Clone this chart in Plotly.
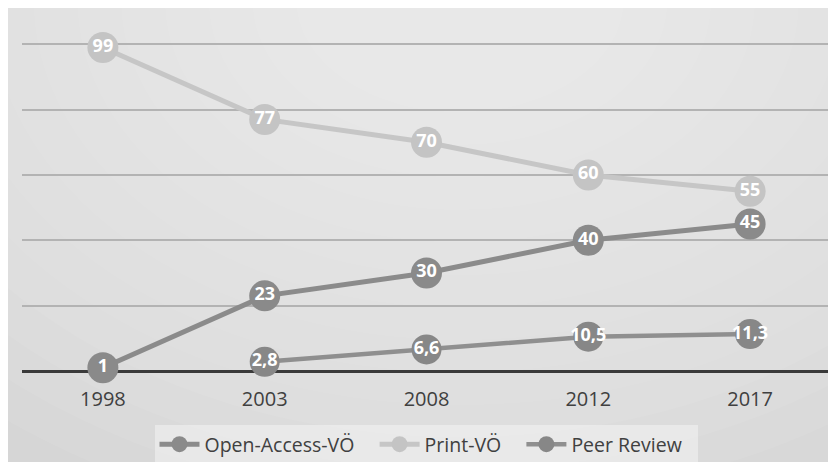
import plotly.graph_objects as go

years = ["1998", "2003", "2008", "2012", "2017"]
open_access = [1, 23, 30, 40, 45]
print_vo = [99, 77, 70, 60, 55]
peer_years = ["2003", "2008", "2012", "2017"]
peer_review = [2.8, 6.6, 10.5, 11.3]

def lab(v):
    return (f"{v:g}").replace(".", ",")

# page body has an 8px margin, so the figure is sized to the visible area
W, H = 828, 454
ML, MR, MT, MB = 14, 5, 33, 91
PW, PH = W - ML - MR, H - MT - MB
OFF = 8  # body margin offset (screen px -> figure px)

def px2x(p):
    return (p - OFF - ML) / PW

def px2y(p):
    return (H - MB - (p - OFF)) / PH

fig = go.Figure()

label_font = dict(family="Open Sans", size=18, color="white", weight="bold")

fig.add_trace(go.Scatter(
    x=years, y=open_access, name="Open-Access-VÖ\u00a0\u00a0\u00a0", mode="lines+markers+text",
    line=dict(color="#8b8b8b", width=5),
    marker=dict(size=31, color="#8a8a8a"),
    text=[lab(v) for v in open_access], textposition="middle center",
    textfont=label_font, cliponaxis=False))

fig.add_trace(go.Scatter(
    x=years, y=print_vo, name="Print-VÖ\u00a0\u00a0\u00a0", mode="lines+markers+text",
    line=dict(color="#c6c6c6", width=5),
    marker=dict(size=31, color="#c4c4c4"),
    text=[lab(v) for v in print_vo], textposition="middle center",
    textfont=label_font, cliponaxis=False))

fig.add_trace(go.Scatter(
    x=peer_years, y=peer_review, name="Peer Review\u00a0\u00a0", mode="lines+markers+text",
    line=dict(color="#8f8f8f", width=4.5),
    marker=dict(size=30, color="#878787"),
    text=[lab(v) for v in peer_review], textposition="middle center",
    textfont=label_font, cliponaxis=False))

shapes = []
# soft radial light from the top centre
cx, cy = 460, 0
for k in range(16):
    f = 1 - k / 16
    rx, ry = 120 + 700 * f, 80 + 520 * f
    shapes.append(dict(type="circle", xref="paper", yref="paper", layer="below",
                       x0=px2x(cx - rx), x1=px2x(cx + rx),
                       y0=px2y(cy + ry), y1=px2y(cy - ry),
                       fillcolor="rgba(255,255,255,0.06)", line=dict(width=0)))

fig.update_layout(
    width=W, height=H,
    margin=dict(l=ML, r=MR, t=MT, b=MB, autoexpand=False),
    paper_bgcolor="#d2d2d2", plot_bgcolor="rgba(0,0,0,0)",
    font=dict(family="Open Sans", color="#404040"),
    shapes=shapes,
    showlegend=True,
    legend=dict(orientation="h", x=(426 - OFF) / W, xanchor="center", xref="container",
                y=1 - (425 - OFF) / H, yanchor="top", yref="container",
                bgcolor="rgba(245,245,245,0.5)", font=dict(size=19.5, color="#404040"),
                itemwidth=40, tracegroupgap=0),
    xaxis=dict(type="category", categoryorder="array", categoryarray=years,
               range=[-0.5, 4.5], showgrid=False, zeroline=False,
               showline=False, ticks="outside", ticklen=10, tickcolor="rgba(0,0,0,0)",
               tickfont=dict(size=20, color="#404040")),
    yaxis=dict(range=[0, 101], tickvals=[0, 20, 40, 60, 80, 100], showticklabels=False,
               showgrid=True, gridcolor="#b3b3b3", gridwidth=1.5, zeroline=True,
               zerolinecolor="#3a3a3a", zerolinewidth=2.5),
)

fig.write_html("out.html")
